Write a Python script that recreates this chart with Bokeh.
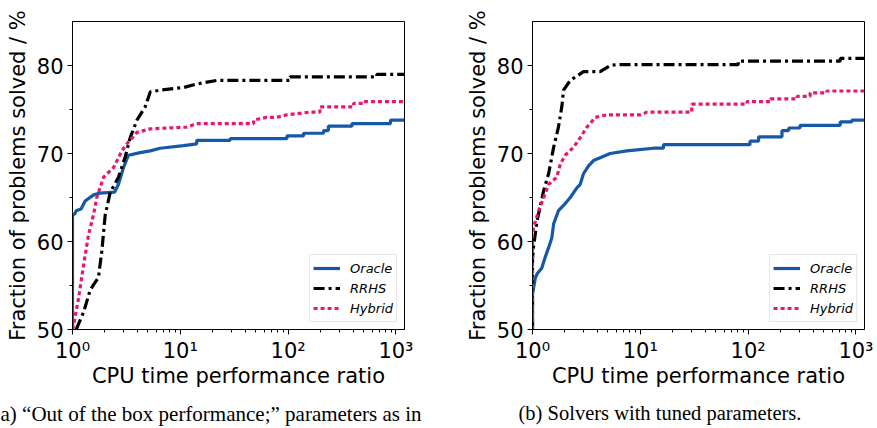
from bokeh.plotting import figure
from bokeh.layouts import row
from bokeh.models import Range1d, FixedTicker, Legend, LegendItem, Title
from bokeh.embed import file_html
from bokeh.resources import INLINE

# Performance profiles: vertices of each staircase (ratio, % solved)
# (a) out-of-the-box solvers
a_oracle_x = [1, 1, 1.05, 1.08, 1.2, 1.31, 1.57, 1.8, 2.45, 2.67, 2.97, 3.3, 4.24, 5.26, 6.5,
              10.7, 14.2, 14.2, 29, 29, 97.5, 97.5, 139, 139, 213, 213, 236, 236, 391, 391,
              890, 890, 1200]
a_oracle_y = [50, 63.1, 63.1, 63.5, 63.7, 64.6, 65.3, 65.5, 65.6, 66.5, 68.4, 69.8, 70.1, 70.3, 70.6,
              70.9, 71.1, 71.5, 71.5, 71.7, 71.7, 72.0, 72.0, 72.3, 72.3, 72.6, 72.6, 73.1, 73.1, 73.4,
              73.4, 73.8, 73.8]
a_rrhs_x = [1.08, 1.1, 1.27, 1.46, 1.57, 1.74, 1.87, 2.01, 2.24, 2.67, 3.08, 3.43, 3.96, 4.72, 5.26,
            6.5, 10.7, 14.2, 21.8, 104, 104, 665, 665, 1200]
a_rrhs_y = [50, 50.2, 52.0, 54.5, 55.1, 55.9, 58.9, 63.0, 65.6, 67.3, 69.6, 71.8, 73.8, 75.3, 77.0,
            77.2, 77.5, 77.9, 78.3, 78.3, 78.7, 78.7, 79.0, 79.0]
a_hybrid_x = [1.0, 1.02, 1.14, 1.27, 1.41, 1.57, 1.68, 1.94, 2.4, 2.87, 3.2, 3.96, 5.26, 11.5, 14.2,
              47.8, 47.8, 63, 78, 97.6, 160, 197, 197, 405, 405, 500, 500, 1200]
a_hybrid_y = [50, 50.4, 53.6, 57.4, 60.8, 63.1, 65.0, 67.3, 68.4, 70.3, 71.1, 72.4, 72.8, 73.0, 73.4,
              73.4, 73.8, 74.1, 74.1, 74.4, 74.7, 74.7, 75.3, 75.3, 75.7, 75.7, 75.9, 75.9]

# (b) tuned solvers
b_oracle_x = [1.0, 1.0, 1.06, 1.1, 1.22, 1.31, 1.41, 1.51, 1.57, 1.74, 1.94, 2.24, 2.58, 2.77, 2.97,
              3.31, 3.68, 4.4, 5.25, 7.5, 13.2, 16.4, 16.4, 104, 104, 125, 125, 206, 206, 238,
              238, 303, 303, 715, 715, 917, 917, 1200]
b_oracle_y = [50, 54.0, 55.8, 56.3, 57.0, 58.2, 59.3, 60.4, 62.0, 63.5, 64.1, 65.0, 66.1, 66.5, 67.7,
              68.6, 69.2, 69.6, 70.0, 70.3, 70.6, 70.6, 71.0, 71.0, 71.4, 71.4, 71.9, 71.9, 72.6, 72.6,
              72.9, 72.9, 73.2, 73.2, 73.6, 73.6, 73.8, 73.8]
b_rrhs_x = [1.0, 1.0, 1.02, 1.1, 1.27, 1.41, 1.57, 1.74, 1.87, 1.94, 2.24, 2.97, 4.24, 5.26, 6.0,
            81, 81, 715, 715, 1200]
b_rrhs_y = [50, 58.0, 59.3, 62.3, 65.8, 67.7, 70.7, 73.0, 75.3, 77.2, 78.3, 79.3, 79.3, 80.0, 80.1,
            80.1, 80.5, 80.5, 80.8, 80.8]
b_hybrid_x = [1.0, 1.0, 1.02, 1.14, 1.27, 1.41, 1.68, 1.81, 2.01, 2.4, 2.77, 3.2, 3.82, 4.9, 10.0,
              11.5, 30, 30, 97.6, 97.6, 161, 161, 285, 285, 376, 376, 537, 537, 1200]
b_hybrid_y = [50, 60.5, 61.6, 63.5, 65.0, 66.5, 67.3, 68.8, 69.8, 70.7, 71.8, 73.0, 74.1, 74.4, 74.4,
              74.7, 74.7, 75.6, 75.6, 75.9, 75.9, 76.2, 76.2, 76.5, 76.5, 76.9, 76.9, 77.1, 77.1]

series_names = ["Oracle", "RRHS", "Hybrid"]
x_ticks = [1, 10, 100, 1000]
x_tick_labels = ["10⁰", "10¹", "10²", "10³"]
x_minor = [m * d for d in (1, 10, 100) for m in range(2, 10)]
y_ticks = [50, 60, 70, 80]
y_minor = [55, 65, 75]

x_label = "CPU time performance ratio"
y_label = "Fraction of problems solved / %"
caption_a = "(a) “Out of the box performance;” parameters as in"
caption_b = "(b) Solvers with tuned parameters."

SANS = "DejaVu Sans"
STYLES = {
    "Oracle": dict(line_color="#1559a6", line_width=3.2),
    "RRHS": dict(line_color="#000000", line_width=3.2, line_dash="11 4 3 4"),
    "Hybrid": dict(line_color="#e8176f", line_width=3.2, line_dash="4 3"),
}


def make_panel(data, border_right, caption, cap_align, cap_offset, cap_size):
    p = figure(x_axis_type="log", output_backend="svg", toolbar_location=None,
               frame_width=332, frame_height=308,
               min_border_left=72, min_border_right=border_right,
               min_border_top=21, min_border_bottom=99,
               x_range=Range1d(1, 1200), y_range=Range1d(50, 85))
    p.background_fill_color = "white"
    p.border_fill_color = "white"
    p.outline_line_color = "black"
    p.outline_line_width = 1
    p.grid.visible = False

    items = []
    for name, (xs, ys) in zip(series_names, data):
        r = p.line(xs, ys, **STYLES[name])
        items.append(LegendItem(label=name, renderers=[r]))

    p.xaxis.ticker = FixedTicker(ticks=x_ticks, minor_ticks=x_minor)
    p.xaxis.major_label_overrides = {t: s for t, s in zip(x_ticks, x_tick_labels)}
    p.yaxis.ticker = FixedTicker(ticks=y_ticks, minor_ticks=y_minor)
    p.xaxis.axis_label = x_label
    p.yaxis.axis_label = y_label
    for ax in (p.xaxis[0], p.yaxis[0]):
        ax.axis_line_color = "black"
        ax.major_tick_line_color = "black"
        ax.minor_tick_line_color = "black"
        ax.major_tick_in = 0
        ax.major_tick_out = 5
        ax.minor_tick_in = 0
        ax.minor_tick_out = 3
        ax.major_label_text_font = SANS
        ax.major_label_text_font_size = "21px"
        ax.major_label_text_color = "black"
        ax.axis_label_text_font = SANS
        ax.axis_label_text_font_size = "21px"
        ax.axis_label_text_font_style = "normal"
        ax.axis_label_text_color = "black"
        ax.major_label_standoff = 4
    p.yaxis.axis_label_standoff = 4
    p.xaxis.axis_label_standoff = -2

    legend = Legend(items=items, location="bottom_right")
    legend.label_text_font = SANS
    legend.label_text_font_style = "italic"
    legend.label_text_font_size = "13px"
    legend.label_text_color = "black"
    legend.glyph_width = 27
    legend.glyph_height = 20
    legend.label_height = 20
    legend.label_standoff = 10
    legend.spacing = 0
    legend.padding = 3
    legend.margin = 7
    legend.border_line_color = "#d0d0d0"
    legend.border_line_width = 1
    legend.background_fill_alpha = 0.9
    p.add_layout(legend)

    # sub-figure caption beneath the x axis
    cap = Title(text=caption, align=cap_align, offset=cap_offset, standoff=18,
                text_font="Liberation Serif", text_font_size=cap_size,
                text_font_style="normal", text_color="black")
    p.add_layout(cap, "below")
    return p


left = make_panel([(a_oracle_x, a_oracle_y), (a_rrhs_x, a_rrhs_y), (a_hybrid_x, a_hybrid_y)],
                  56, caption_a, "right", -17, "21px")
right = make_panel([(b_oracle_x, b_oracle_y), (b_rrhs_x, b_rrhs_y), (b_hybrid_x, b_hybrid_y)],
                   12, caption_b, "left", -14, "20.5px")

layout = row(left, right, spacing=0)
open("out.html", "w").write(file_html(layout, INLINE))
